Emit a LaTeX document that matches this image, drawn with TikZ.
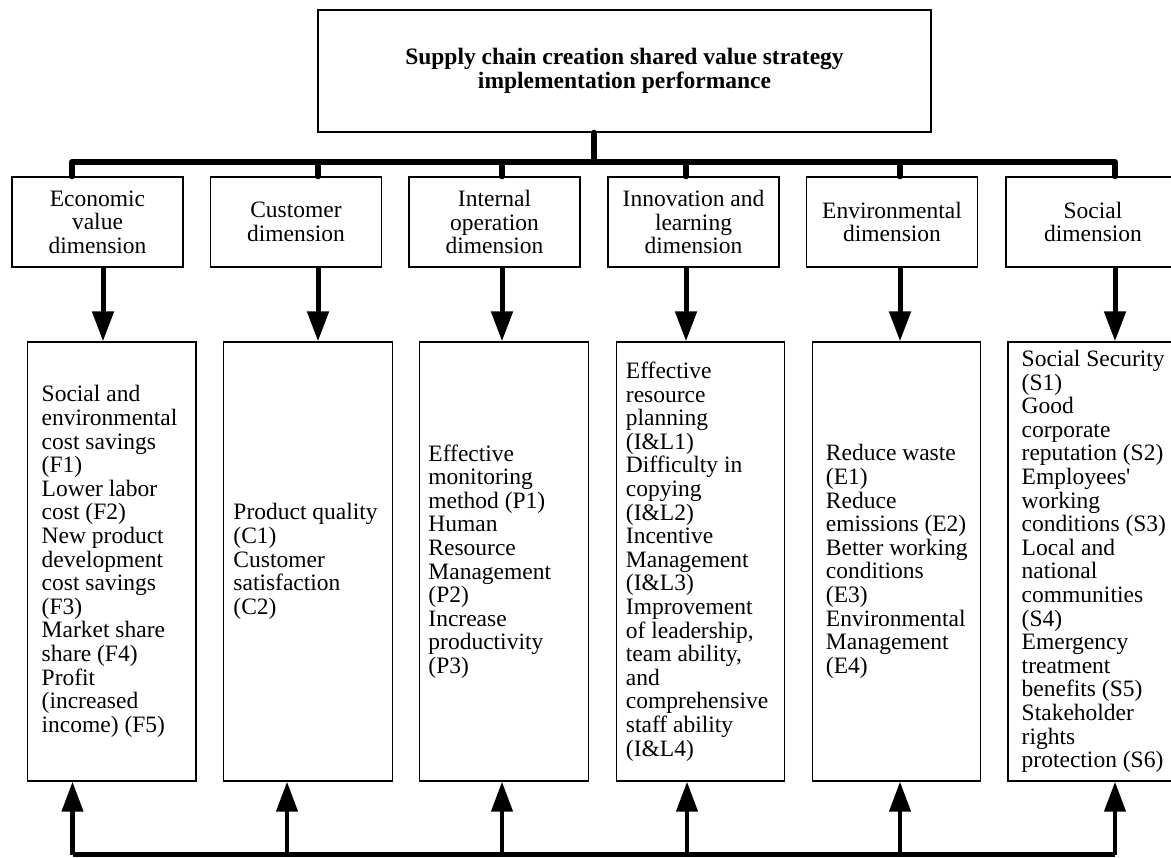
\documentclass[tikz,border=0pt]{standalone}
\usepackage{fontspec}
\setmainfont{Liberation Serif}
\usetikzlibrary{arrows.meta}

\tikzset{
  txt/.style={font=\fontsize{11.75pt}{11.8pt}\selectfont},
  titlebox/.style={draw, line width=0.7pt, align=center, inner sep=0pt,
    minimum width=306.5pt, minimum height=61pt,
    font=\bfseries\fontsize{11.75pt}{11.8pt}\selectfont},
  dimbox/.style={draw, line width=0.7pt, txt, align=center, inner sep=0pt,
    minimum width=85.5pt, minimum height=45pt},
  itembox/.style={draw, line width=0.7pt, inner sep=0pt,
    minimum width=84.25pt, minimum height=219.5pt},
  itemtext/.style={txt, align=left, inner sep=0pt, anchor=west},
  busline/.style={line width=3pt, line cap=round, line join=round},
  downarrow/.style={line width=2.5pt, -{Triangle[width=10.5pt,length=15pt]}},
  feedline/.style={line width=2.2pt, line join=round},
  uparrow/.style={line width=2.2pt, -{Triangle[width=10.5pt,length=15pt]}}
}

\begin{document}
\begin{tikzpicture}[x=0.5pt, y=-0.5pt]
  \useasboundingbox (0,0) rectangle (1171,857);
  \clip (0,0) rectangle (1171,857);

  % top box
  \node[titlebox] (title) at (624.5,71)
    {Supply chain creation shared value strategy\\implementation performance};

  % dimensions
  \node[dimbox] (dim1) at (97.5,222) {Economic\\value\\dimension};
  \node[dimbox] (dim2) at (296,222) {Customer\\dimension};
  \node[dimbox] (dim3) at (494.5,222) {Internal\\operation\\dimension};
  \node[dimbox] (dim4) at (693.5,222) {Innovation and\\learning\\dimension};
  \node[dimbox] (dim5) at (892,222) {Environmental\\dimension};
  \node[dimbox, minimum width=87pt] (dim6) at (1093,222) {Social\\dimension};

  % indicator boxes
  \node[itembox] (item1) at (111.75,561.5) {};
  \node[itembox] (item2) at (308,561.5) {};
  \node[itembox] (item3) at (504,561.5) {};
  \node[itembox] (item4) at (700.5,561.5) {};
  \node[itembox] (item5) at (896.5,561.5) {};
  \node[itembox, minimum width=86pt] (item6) at (1094,561.5) {};

  % indicator lists
  \node[itemtext, xshift=7.25pt] (list1) at (item1.west)
    {Social and\\environmental\\cost savings\\(F1)\\Lower labor\\cost (F2)\\New product\\development\\cost savings\\(F3)\\Market share\\share (F4)\\Profit\\(increased\\income) (F5)};
  \node[itemtext, xshift=5pt] (list2) at (item2.west)
    {Product quality\\(C1)\\Customer\\satisfaction\\(C2)};
  \node[itemtext, xshift=4.5pt] (list3) at (item3.west)
    {Effective\\monitoring\\method (P1)\\Human\\Resource\\Management\\(P2)\\Increase\\productivity\\(P3)};
  \node[itemtext, xshift=5pt] (list4) at (item4.west)
    {Effective\\resource\\planning\\(I\&L1)\\Difficulty in\\copying\\(I\&L2)\\Incentive\\Management\\(I\&L3)\\Improvement\\of leadership,\\team ability,\\and\\comprehensive\\staff ability\\(I\&L4)};
  \node[itemtext, xshift=7pt] (list5) at (item5.west)
    {Reduce waste\\(E1)\\Reduce\\emissions (E2)\\Better working\\conditions\\(E3)\\Environmental\\Management\\(E4)};
  \node[itemtext, xshift=7pt] (list6) at (item6.west)
    {Social Security\\(S1)\\Good\\corporate\\reputation (S2)\\Employees\textquotesingle\\working\\conditions (S3)\\Local and\\national\\communities\\(S4)\\Emergency\\treatment\\benefits (S5)\\Stakeholder\\rights\\protection (S6)};

  % top bus
  \coordinate (hub) at (594,162);
  \coordinate (t1) at (72,162);
  \coordinate (t2) at (318,162);
  \coordinate (t3) at (502,162);
  \coordinate (t4) at (686,162);
  \coordinate (t5) at (900,162);
  \coordinate (t6) at (1115,162);
  \draw[busline] (title.south -| hub) -- (hub);
  \draw[busline] (t1 |- dim1.north) -- (t1) -- (t6) -- (t6 |- dim6.north);
  \draw[busline] (t2) -- (t2 |- dim2.north);
  \draw[busline] (t3) -- (t3 |- dim3.north);
  \draw[busline] (t4) -- (t4 |- dim4.north);
  \draw[busline] (t5) -- (t5 |- dim5.north);

  % dimension -> indicators
  \coordinate (a1) at (103,300);
  \draw[downarrow] (a1 |- dim1.south) -- (a1 |- item1.north);
  \draw[downarrow] (t2 |- dim2.south) -- (t2 |- item2.north);
  \draw[downarrow] (t3 |- dim3.south) -- (t3 |- item3.north);
  \draw[downarrow] (t4 |- dim4.south) -- (t4 |- item4.north);
  \draw[downarrow] (t5 |- dim5.south) -- (t5 |- item5.north);
  \draw[downarrow] (t6 |- dim6.south) -- (t6 |- item6.north);

  % bottom feedback
  \coordinate (b1) at (72.5,854.5);
  \coordinate (b2) at (287,854.5);
  \coordinate (b3) at (502,854.5);
  \coordinate (b4) at (687,854.5);
  \coordinate (b5) at (900,854.5);
  \coordinate (b6) at (1115,854.5);
  \draw[feedline] (b1) -- (b6);
  \draw[uparrow] (b1) -- (b1 |- item1.south);
  \draw[uparrow] (b2) -- (b2 |- item2.south);
  \draw[uparrow] (b3) -- (b3 |- item3.south);
  \draw[uparrow] (b4) -- (b4 |- item4.south);
  \draw[uparrow] (b5) -- (b5 |- item5.south);
  \draw[uparrow] (b6) -- (b6 |- item6.south);
\end{tikzpicture}
\end{document}
